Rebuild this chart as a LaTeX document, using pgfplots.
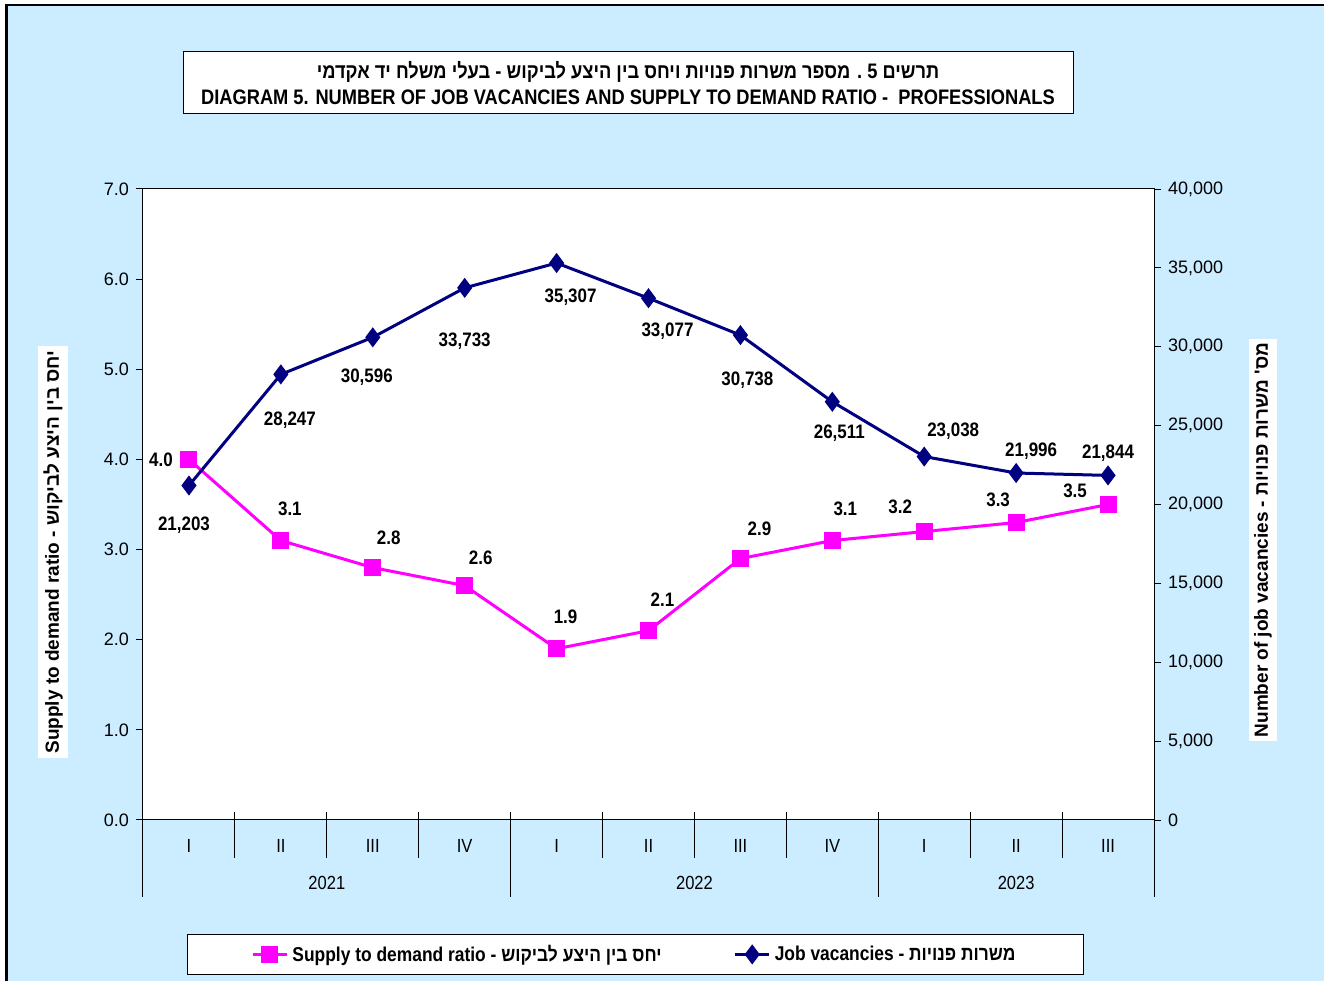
\documentclass[border=0pt]{standalone}
\usepackage{fontspec}
\setmainfont{Liberation Sans}
\newfontfamily\heb[Script=Hebrew]{Liberation Sans}
\newfontfamily\narrow[FakeStretch=0.87]{Liberation Sans}
\newfontfamily\narrowheb[Script=Hebrew,FakeStretch=0.87]{Liberation Sans}
\usepackage{pgfplots}
\usepackage{pgfplotstable}
\pgfplotsset{compat=1.18}
\TeXXeTstate=1
\definecolor{bg}{HTML}{CCECFF}
\definecolor{navy}{HTML}{000080}
\definecolor{mag}{HTML}{FF00FF}

\pgfplotstableread{
x r lab dx dy
0 4.0 4.0 -14 0
1 3.1 3.1 4.5 16
2 2.8 2.8 8 15
3 2.6 2.6 8 14
4 1.9 1.9 4.5 16
5 2.1 2.1 7 15.5
6 2.9 2.9 9.5 15
7 3.1 3.1 6.5 16
8 3.2 3.2 -12 12.5
9 3.3 3.3 -9 11.5
10 3.5 3.5 -16.5 7
}\ratio

\pgfplotstableread{
x v lab dx dy
0 21203 21,203 -2.5 -20
1 28247 28,247 4.5 -23
2 30596 30,596 -3 -20
3 33733 33,733 0 -26.5
4 35307 35,307 7 -17
5 33077 33,077 9.5 -16.5
6 30738 30,738 3.5 -22.5
7 26511 26,511 3.5 -15.5
8 23038 23,038 14.5 12.5
9 21996 21,996 7.5 11
10 21844 21,844 0 11
}\vac

\begin{document}
\begin{tikzpicture}
\useasboundingbox (0,0) rectangle (662pt,490.5pt);
\fill[white] (0,0) rectangle (662pt,490.5pt);
\fill[bg] (3.25pt,0) rectangle (662pt,488pt);
\draw[black, line width=1.3pt] (3.25pt,0) -- (3.25pt,488pt) -- (662pt,488pt);

% title
\node[draw=black, fill=white, line width=0.5pt, minimum width=445pt, minimum height=31pt, inner sep=0pt, align=center,
  font=\narrow\bfseries\fontsize{10.5}{13}\selectfont] at (314pt,449pt)
  {{\narrowheb\beginR תרשים 5 . מספר משרות פנויות ויחס בין היצע לביקוש - בעלי משלח יד אקדמי\endR}\\
   DIAGRAM 5. NUMBER OF JOB VACANCIES AND SUPPLY TO DEMAND RATIO -\ \ PROFESSIONALS};

% axis labels
\node[rotate=90, fill=white, inner xsep=2pt, inner ysep=2.5pt, font=\bfseries\fontsize{9.5}{11}\selectfont] at (26.5pt,214.5pt)
  {Supply to demand ratio - {\heb\beginR יחס בין היצע לביקוש\endR}};
\node[rotate=90, fill=white, inner xsep=2pt, inner ysep=2.5pt, font=\bfseries\fontsize{9.5}{11}\selectfont] at (631.5pt,220.5pt)
  {Number of job vacancies - {\heb\beginR מס' משרות פנויות\endR}};

\begin{axis}[
  at={(71.5pt,80.5pt)}, anchor=south west, scale only axis,
  width=505.5pt, height=315.5pt,
  xmin=-0.5, xmax=10.5, ymin=0, ymax=7,
  clip=false,
  axis background/.style={fill=white},
  axis line style={black, line width=0.5pt},
  ytick={0,1,...,7},
  ytick pos=left,
  tick align=outside, major tick length=3.5pt,
  tick style={black, line width=0.5pt},
  /pgf/number format/assume math mode=true,
  yticklabel style={/pgf/number format/.cd, fixed, fixed zerofill, precision=1},
  tick label style={font=\fontsize{9}{10}\selectfont},
  xtick={0,...,10},
  xticklabels={I,II,III,IV,I,II,III,IV,I,II,III},
  x tick style={draw=none},
  xticklabel style={font=\narrow\fontsize{9.5}{10}\selectfont, anchor=center, yshift=-9.5pt},
]
\pgfplotsinvokeforeach{0.5,1.5,2.5,4.5,5.5,6.5,8.5,9.5}{
  \draw[black, line width=0.5pt] ([yshift=4pt]axis cs:#1,0) -- ([yshift=-19pt]axis cs:#1,0);
}
\pgfplotsinvokeforeach{-0.5,3.5,7.5,10.5}{
  \draw[black, line width=0.5pt] ([yshift=4pt]axis cs:#1,0) -- ([yshift=-38.5pt]axis cs:#1,0);
}
\node[font=\narrow\fontsize{9.5}{10}\selectfont, yshift=-31.5pt] at (axis cs:1.5,0) {2021};
\node[font=\narrow\fontsize{9.5}{10}\selectfont, yshift=-31.5pt] at (axis cs:5.5,0) {2022};
\node[font=\narrow\fontsize{9.5}{10}\selectfont, yshift=-31.5pt] at (axis cs:9,0) {2023};

\addplot[mag, line width=1.5pt, mark=square*, mark size=3.5pt,
  point meta=explicit symbolic, nodes near coords,
  visualization depends on={\thisrow{dx} \as \dx},
  visualization depends on={\thisrow{dy} \as \dy},
  every node near coord/.append style={anchor=center, xshift=\dx pt, yshift=\dy pt, text=black,
    font=\narrow\bfseries\fontsize{9.75}{10}\selectfont}]
  table[x=x, y=r, meta=lab] {\ratio};
\end{axis}

\begin{axis}[
  at={(71.5pt,80.5pt)}, anchor=south west, scale only axis,
  width=505.5pt, height=315.5pt,
  xmin=-0.5, xmax=10.5, ymin=0, ymax=40000,
  clip=false,
  axis y line*=right, axis x line=none,
  axis line style={black, line width=0.5pt},
  ytick={0,5000,...,40000},
  scaled y ticks=false,
  tick align=outside, major tick length=3.5pt,
  tick style={black, line width=0.5pt},
  /pgf/number format/assume math mode=true,
  yticklabel style={/pgf/number format/.cd, fixed, 1000 sep={,}},
  tick label style={font=\fontsize{9}{10}\selectfont},
  legend style={at={(0.487,-0.213)}, anchor=center, draw=black, fill=white, line width=0.5pt,
    inner xsep=32pt, inner ysep=3pt,
    font=\narrow\bfseries\fontsize{10}{12}\selectfont},
  legend columns=2,
  /tikz/every even column/.append style={column sep=34pt},
  legend cell align=left,
]
\addlegendimage{mag, line width=1.5pt, mark=square*, mark size=3.5pt}
\addlegendentry{Supply to demand ratio - {\narrowheb\beginR יחס בין היצע לביקוש\endR}}
\addlegendimage{navy, line width=1.5pt, mark=diamond*, mark size=3.8pt}
\addlegendentry{Job vacancies - {\narrowheb\beginR משרות פנויות\endR}}

\addplot[navy, line width=1.5pt, mark=diamond*, mark size=3.8pt, forget plot,
  point meta=explicit symbolic, nodes near coords,
  visualization depends on={\thisrow{dx} \as \dx},
  visualization depends on={\thisrow{dy} \as \dy},
  every node near coord/.append style={anchor=center, xshift=\dx pt, yshift=\dy pt, text=black,
    font=\narrow\bfseries\fontsize{9.75}{10}\selectfont}]
  table[x=x, y=v, meta=lab] {\vac};
\end{axis}
\end{tikzpicture}
\end{document}
